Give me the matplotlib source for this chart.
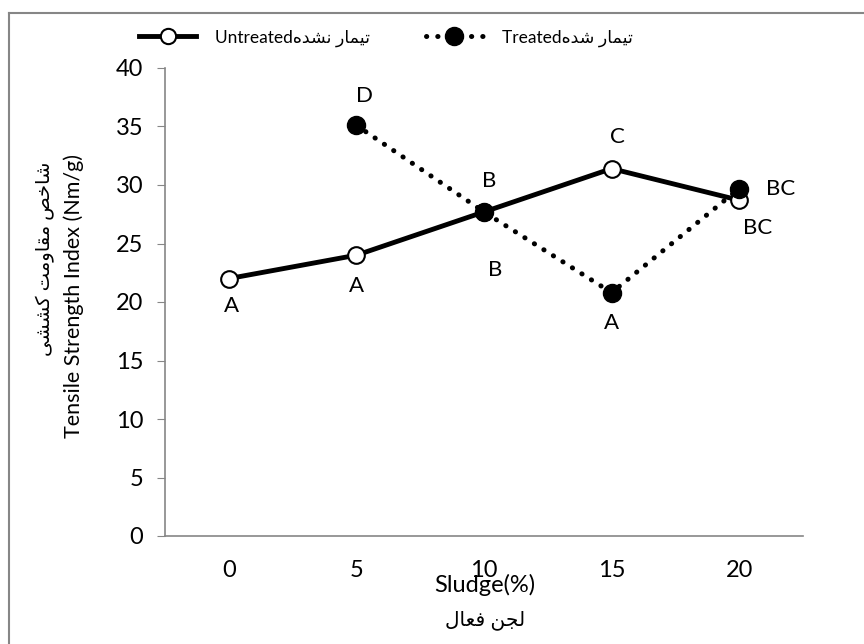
import matplotlib
matplotlib.use("Agg")
import matplotlib.pyplot as plt
from matplotlib.lines import Line2D

# data
sludge = ["0", "5", "10", "15", "20"]
untreated = [22.0, 24.0, 27.7, 31.4, 28.7]
treated = [None, 35.1, 27.7, 20.8, 29.7]
untreated_letters = ["A", "A", "B", "C", "BC"]
treated_letters = ["", "D", "B", "A", "BC"]

# persian letter forms: isolated, final, initial, medial
FORMS = {
    'ا': ('\uFE8D', '\uFE8E', None, None),
    'ت': ('\uFE95', '\uFE96', '\uFE97', '\uFE98'),
    'ج': ('\uFE9D', '\uFE9E', '\uFE9F', '\uFEA0'),
    'خ': ('\uFEA5', '\uFEA6', '\uFEA7', '\uFEA8'),
    'د': ('\uFEA9', '\uFEAA', None, None),
    'ر': ('\uFEAD', '\uFEAE', None, None),
    'ش': ('\uFEB5', '\uFEB6', '\uFEB7', '\uFEB8'),
    'ص': ('\uFEB9', '\uFEBA', '\uFEBB', '\uFEBC'),
    'ع': ('\uFEC9', '\uFECA', '\uFECB', '\uFECC'),
    'ف': ('\uFED1', '\uFED2', '\uFED3', '\uFED4'),
    'ق': ('\uFED5', '\uFED6', '\uFED7', '\uFED8'),
    'ک': ('\uFB8E', '\uFB8F', '\uFB90', '\uFB91'),
    'ل': ('\uFEDD', '\uFEDE', '\uFEDF', '\uFEE0'),
    'م': ('\uFEE1', '\uFEE2', '\uFEE3', '\uFEE4'),
    'ن': ('\uFEE5', '\uFEE6', '\uFEE7', '\uFEE8'),
    'ه': ('\uFEE9', '\uFEEA', '\uFEEB', '\uFEEC'),
    'و': ('\uFEED', '\uFEEE', None, None),
    'ی': ('\uFBFC', '\uFBFD', '\uFBFE', '\uFBFF'),
}


def fa(s):
    # crude shaping + reverse, matplotlib has no bidi
    out = []
    for i, c in enumerate(s):
        if c not in FORMS:
            out.append(c)
            continue
        prev = s[i - 1] if i > 0 else None
        nxt = s[i + 1] if i + 1 < len(s) else None
        jp = prev in FORMS and FORMS[prev][2] is not None
        jn = nxt in FORMS and FORMS[c][2] is not None
        f = FORMS[c]
        if jp and jn:
            out.append(f[3])
        elif jp:
            out.append(f[1])
        elif jn:
            out.append(f[2])
        else:
            out.append(f[0])
    return "".join(out[::-1])


plt.rcParams['font.family'] = ['Lato', 'DejaVu Sans']
plt.rcParams['font.size'] = 16

fig = plt.figure(figsize=(8.64, 6.44), dpi=100)
ax = fig.add_axes([165 / 864, 1 - 536 / 644, 638 / 864, 468 / 644])

DOTS = (0, (0.05, 2.2))

x = list(range(len(sludge)))
ax.plot(x, untreated, color='black', lw=3.5, marker='o', ms=12,
        mfc='white', mec='black', mew=1.5, zorder=3)
tx = [i for i, v in zip(x, treated) if v is not None]
ty = [v for v in treated if v is not None]
ax.plot(tx, ty, color='black', lw=3.6, ls=DOTS, dash_capstyle='round',
        marker='o', ms=13, mfc='black', mec='black', zorder=4)

# letters
u_off = [(2, -20), (0, -22), (4, 22), (4, 23), (13, -20)]
for i, (lab, off) in enumerate(zip(untreated_letters, u_off)):
    ax.annotate(lab, (x[i], untreated[i]), xytext=off, textcoords='offset points',
                ha='center', va='center', fontsize=16)
t_off = [(0, 0), (6, 21), (8, -42), (0, -22), (30, 0)]
for i, (lab, off) in enumerate(zip(treated_letters, t_off)):
    if lab:
        ax.annotate(lab, (x[i], treated[i]), xytext=off, textcoords='offset points',
                    ha='center', va='center', fontsize=16)

ax.set_xlim(-0.5, 4.5)
ax.set_ylim(0, 40)
ax.set_yticks(range(0, 41, 5))
ax.set_xticks(x)
ax.set_xticklabels(sludge)
ax.tick_params(labelsize=17)
for s in ['top', 'right']:
    ax.spines[s].set_visible(False)
for s in ['left', 'bottom']:
    ax.spines[s].set_color('#868686')
    ax.spines[s].set_linewidth(1.2)
ax.tick_params(axis='y', length=5.8, color='#868686', pad=10)
ax.tick_params(axis='x', length=0, pad=17)

fig.text(485 / 864, 1 - 585 / 644, "Sludge(%)", ha='center', va='center', fontsize=17)
fig.text(485 / 864, 1 - 620 / 644, fa("لجن فعال"), ha='center', va='center', fontsize=14.5)
fig.text(74 / 864, 1 - 296 / 644, "Tensile Strength Index (Nm/g)", rotation=90,
         ha='center', va='center', fontsize=15.5)
fig.text(45 / 864, 1 - 162 / 644, fa("شاخص مقاومت کششی"), rotation=90,
         ha='center', va='top', fontsize=14)

handles = [
    Line2D([], [], color='black', lw=3.5, marker='o', ms=11, mfc='white', mec='black', mew=1.5),
    Line2D([], [], color='black', lw=3.6, ls=DOTS, dash_capstyle='round',
           marker='o', ms=13, mfc='black', mec='black'),
]
labels = ["Untreated" + fa("تیمار نشده"), "Treated" + fa("تیمار شده")]
fig.legend(handles, labels, loc='center', bbox_to_anchor=(386 / 864, 1 - 38 / 644),
           ncol=2, frameon=False, handlelength=3.3, handletextpad=1.1,
           columnspacing=3.2, fontsize=12.5)

# chart frame (only left and top edges visible in the crop)
fig.add_artist(Line2D([9 / 864, 9 / 864], [0, 1 - 13 / 644], color='#868686', lw=1.5,
                      transform=fig.transFigure))
fig.add_artist(Line2D([9 / 864, 1], [1 - 13 / 644, 1 - 13 / 644], color='#868686', lw=1.5,
                      transform=fig.transFigure))

fig.savefig("out.png", dpi=100)
